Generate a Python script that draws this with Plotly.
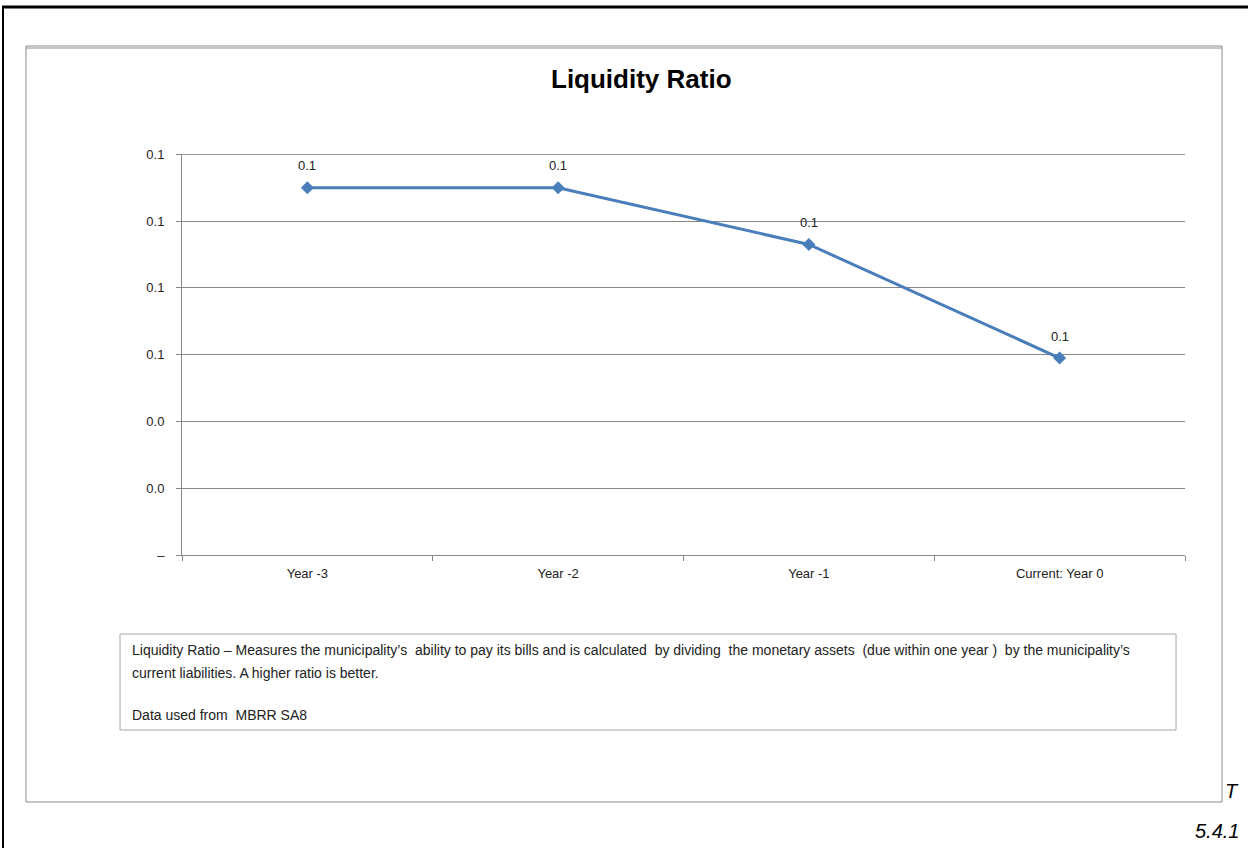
import plotly.graph_objects as go

categories = ["Year -3", "Year -2", "Year -1", "Current: Year 0"]
values = [0.110, 0.110, 0.093, 0.059]
y_tickvals = [0, 0.02, 0.04, 0.06, 0.08, 0.10, 0.12]
y_ticktext = ["–", "0.0", "0.0", "0.1", "0.1", "0.1", "0.1"]
note_lines = [
    "Liquidity Ratio – Measures the municipality’s  ability to pay its bills and is calculated  by dividing  the monetary assets  (due within one year )  by the municipality’s",
    "current liabilities. A higher ratio is better.",
    "Data used from  MBRR SA8",
]

W, H = 1248, 848
L, R, T, B = 182, 1185, 154, 555
pw, ph = R - L, B - T

def px(x):
    return (x - L) / pw

def py(y):
    return (B - y) / ph

FONT = "Liberation Sans, Arial, sans-serif"

fig = go.Figure()
fig.add_trace(go.Scatter(
    x=categories, y=values, mode="lines+markers",
    line=dict(color="#4A7EBB", width=3),
    marker=dict(symbol="diamond", size=10, color="#4A7EBB"),
    cliponaxis=False, showlegend=False, hoverinfo="skip",
))

shapes = [
    # outer page border
    dict(type="line", xref="paper", yref="paper", x0=px(2), x1=px(1260), y0=py(7), y1=py(7),
         line=dict(color="black", width=3)),
    dict(type="line", xref="paper", yref="paper", x0=px(3), x1=px(3), y0=py(7), y1=py(860),
         line=dict(color="black", width=2)),
    # chart box
    dict(type="rect", xref="paper", yref="paper", x0=px(26), x1=px(1222), y0=py(46), y1=py(802),
         line=dict(color="#8C8C8C", width=1)),
    dict(type="line", xref="paper", yref="paper", x0=px(26), x1=px(1222), y0=py(48), y1=py(48),
         line=dict(color="#8C8C8C", width=1)),
    # top gridline
    dict(type="line", xref="paper", yref="y", x0=0, x1=1, y0=y_tickvals[-1], y1=y_tickvals[-1],
         line=dict(color="#868686", width=1)),
    # note box
    dict(type="rect", xref="paper", yref="paper", x0=px(120), x1=px(1176), y0=py(634), y1=py(730),
         line=dict(color="#A6A6A6", width=1)),
]

annotations = [
    dict(text="<b>Liquidity Ratio</b>", xref="paper", yref="paper", x=px(641), y=py(79),
         showarrow=False, font=dict(family=FONT, size=26, color="black"),
         xanchor="center", yanchor="middle"),
    dict(text="<i>T</i>", xref="paper", yref="paper", x=px(1223), y=py(791), showarrow=False,
         xanchor="left", yanchor="middle", font=dict(family=FONT, size=20, color="black")),
    dict(text="<i>5.4.1</i>", xref="paper", yref="paper", x=px(1241), y=py(831), showarrow=False,
         xanchor="right", yanchor="middle", font=dict(family=FONT, size=20, color="black")),
]
for line, yc in zip(note_lines, [650, 673, 715]):
    annotations.append(dict(text=line, xref="paper", yref="paper", x=px(130), y=py(yc),
                            showarrow=False, xanchor="left", yanchor="middle",
                            font=dict(family=FONT, size=14, color="#222222")))
for c, v in zip(categories, values):
    annotations.append(dict(text=f"{v:.1f}", x=c, y=v, xref="x", yref="y", showarrow=False,
                            yshift=22, font=dict(family=FONT, size=13, color="#222222")))

fig.update_layout(
    width=W, height=H,
    margin=dict(l=L, r=W - R, t=T, b=H - B),
    paper_bgcolor="white", plot_bgcolor="white",
    font=dict(family=FONT, size=13, color="#222222"),
    shapes=shapes, annotations=annotations,
    xaxis=dict(type="category", range=[-0.5, 3.5], tickson="boundaries",
               showline=True, linecolor="#868686", linewidth=1,
               ticks="outside", ticklen=5, tickcolor="#868686", ticklabelstandoff=6,
               showgrid=False, tickfont=dict(family=FONT, size=13, color="#222222")),
    yaxis=dict(range=[0, 0.1201], tickvals=y_tickvals, ticktext=y_ticktext,
               showline=True, linecolor="#868686", linewidth=1,
               ticks="outside", ticklen=5, tickcolor="#868686", ticklabelstandoff=9,
               showgrid=True, gridcolor="#868686", gridwidth=1, zeroline=False,
               tickfont=dict(family=FONT, size=13, color="#222222")),
)

fig.write_html("out.html", config={"displayModeBar": False},
               post_script="document.body.style.margin='0';document.body.style.overflow='hidden';")
